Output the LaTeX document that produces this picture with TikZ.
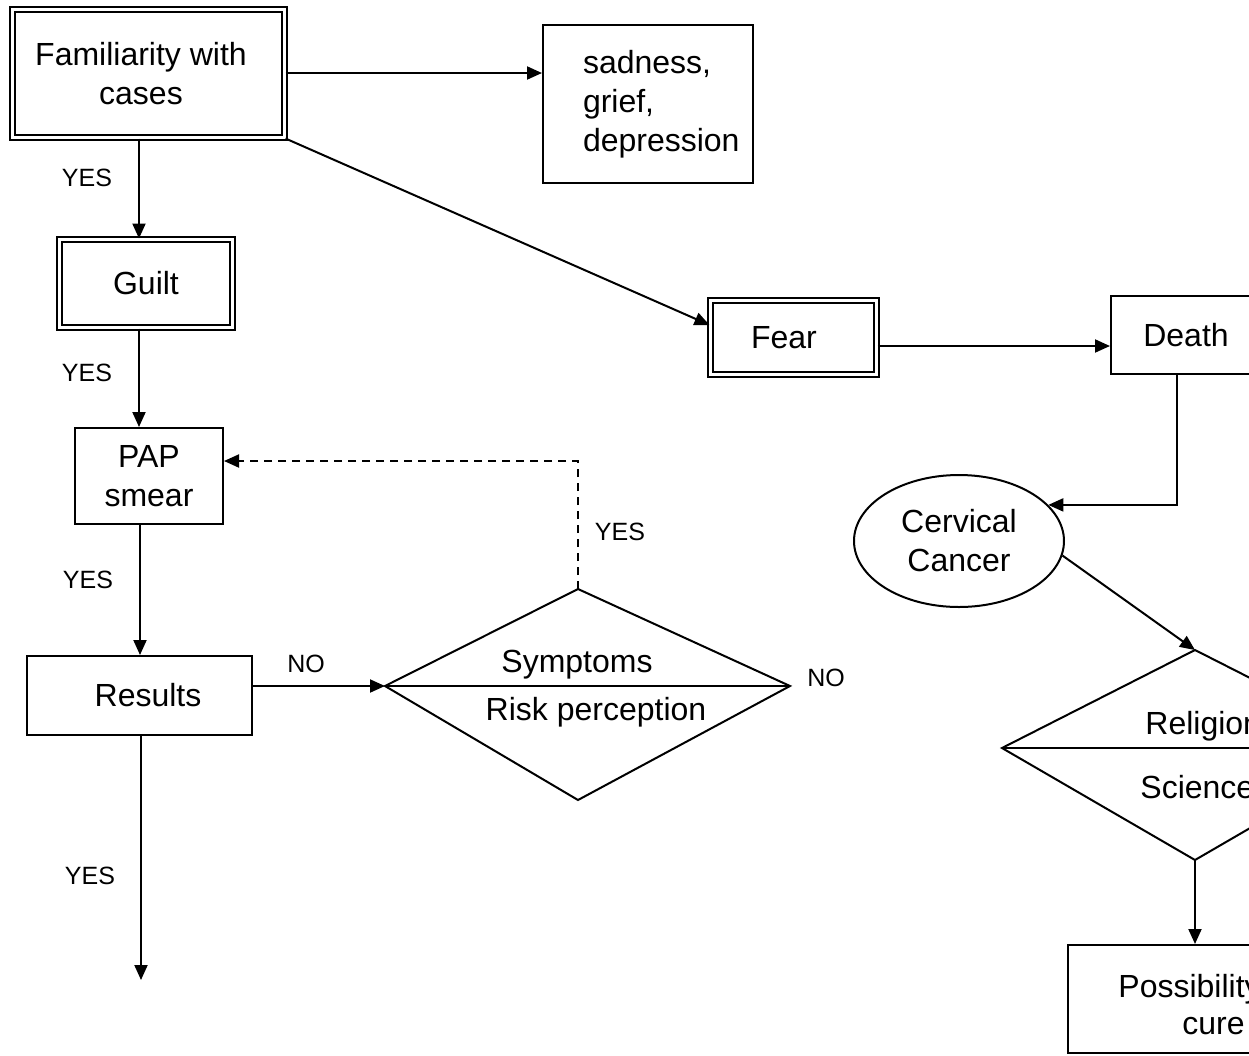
\documentclass[tikz,border=0pt]{standalone}
\usepackage{fontspec}
\setmainfont{Liberation Sans}
\usetikzlibrary{arrows.meta,shapes.geometric,calc}
\begin{document}
\begin{tikzpicture}[x=0.5pt,y=-0.5pt,
  box/.style={draw, line width=1pt, inner sep=0pt, font=\fontsize{16}{19.5}\selectfont, align=center},
  dbox/.style={box, double, double distance=1.5pt},
  arr/.style={line width=1pt, -{Triangle[length=7.5pt,width=6.5pt]}},
  lbl/.style={font=\fontsize{12.5}{15}\selectfont, inner sep=0pt},
  txt/.style={font=\fontsize{16}{19.5}\selectfont, inner sep=0pt},
  shp/.style={draw, line width=1pt},
]
\useasboundingbox (0,0) rectangle (1249,1056);
\clip (0,0) rectangle (1249,1056);

% boxes
\node[dbox, minimum width=136pt, minimum height=64pt] (fam) at (148.5,73.5) {Familiarity with\hspace*{7.5pt}\\cases\hspace*{7.5pt}};
\node[box, minimum width=105pt, minimum height=79pt, text width=65pt, align=left] (sad) at (648,104) {sadness,\\grief,\\depression};
\node[dbox, minimum width=86.5pt, minimum height=44pt] (guilt) at (146,283.5) {Guilt};
\node[box, minimum width=74pt, minimum height=48pt] (pap) at (149,476) {PAP\\smear};
\node[box, minimum width=112.5pt, minimum height=39.5pt] (res) at (139.5,695.5) {\hspace*{8.5pt}Results};
\node[dbox, minimum width=83pt, minimum height=37pt] (fear) at (793.5,337.5) {Fear\hspace*{9.5pt}};
\node[box, minimum width=75pt, minimum height=39pt] (death) at (1186,335) {Death};
\node[box, ellipse, minimum width=105pt, minimum height=66pt] (cc) at (959,541) {Cervical\\Cancer};
\node[box, minimum width=127pt, minimum height=54pt] (poss) at (1195,999) {};
\node[txt, anchor=base west] (possa) at (1118,997) {Possibility};
\node[txt, anchor=base west] (possb) at (1182,1034) {cure};

% diamond 1
\coordinate (d1l) at (385,686);
\coordinate (d1t) at (578,589);
\coordinate (d1r) at (790,686);
\coordinate (d1b) at (578,800);
\draw[shp] (d1l) -- (d1t) -- (d1r) -- (d1b) -- cycle;
\draw[shp] (d1l) -- (d1r);
\node[txt, anchor=base] (sym) at (577,672) {Symptoms};
\node[txt, anchor=base] (risk) at (596,720) {Risk perception};

% diamond 2
\coordinate (d2l) at (1002,748);
\coordinate (d2t) at (1195,650);
\coordinate (d2r) at (1388,748);
\coordinate (d2b) at (1195,860);
\draw[shp] (d2l) -- (d2t) -- (d2r) -- (d2b) -- cycle;
\draw[shp] (d2l) -- (d2r);
\node[txt, anchor=base west] (rel) at (1145,734) {Religion};
\node[txt, anchor=base west] (sci) at (1140,798) {Science};

% connectors
\draw[arr] (fam.east |- 0,73) -- (sad.west |- 0,73);
\draw[arr] (fam.south east) -- (fear.west |- 0,325);
\draw[arr] (139,0 |- fam.south) -- (139,0 |- guilt.north);
\draw[arr] (139,0 |- guilt.south) -- (139,0 |- pap.north);
\draw[arr] (140,0 |- pap.south) -- (140,0 |- res.north);
\coordinate (resend) at (141,980);
\draw[arr] (141,0 |- res.south) -- (resend);
\draw[arr] (res.east |- d1l) -- (d1l);
\coordinate (dbend) at (578,461);
\draw[arr, dash pattern=on 4pt off 3pt] (d1t) -- (dbend) -- (pap.east |- dbend);
\draw[arr] (fear.east |- 0,346) -- (death.west |- 0,346);
\draw[arr] (1177,0 |- death.south) |- (cc.22);
\draw[arr] (cc.-8) -- (d2t);
\draw[arr] (d2b) -- (poss.north);

% labels
\node[lbl] (y1) at (87,178) {YES};
\node[lbl] (y2) at (87,373) {YES};
\node[lbl] (y3) at (88,580) {YES};
\node[lbl] (y4) at (90,876) {YES};
\node[lbl] (n1) at (306,664) {NO};
\node[lbl] (n2) at (826,678) {NO};
\node[lbl] (y5) at (620,532) {YES};
\end{tikzpicture}
\end{document}
